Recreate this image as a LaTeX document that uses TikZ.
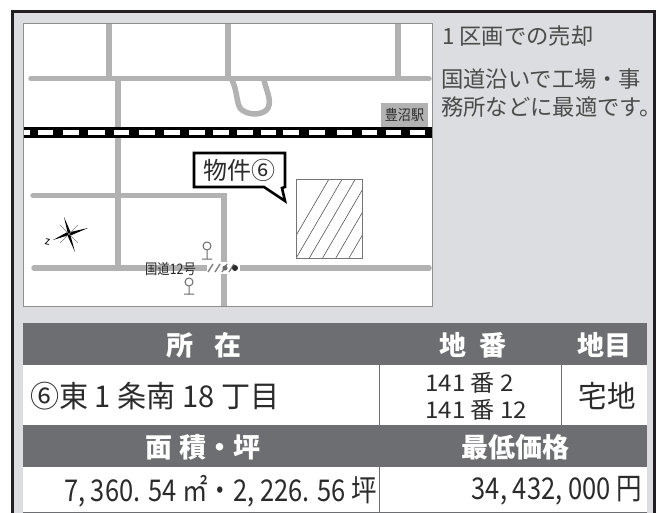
\documentclass[tikz,border=0pt]{standalone}
\usepackage{fontspec}
\setmainfont{Noto Sans CJK JP}
\usetikzlibrary{calc}
\definecolor{panel}{HTML}{DCDDE0}
\definecolor{frameK}{HTML}{231F20}
\definecolor{road}{HTML}{B2B2B2}
\definecolor{headg}{HTML}{6D6E71}
\definecolor{inkk}{HTML}{2B2B2B}
\newcommand{\sq}[2]{\scalebox{#1}[1]{#2}}
\tikzset{
 x=1pt,y=-1pt,
 roadline/.style={draw=road,line width=5.5pt,line cap=round},
 roadedge/.style={draw=road,line width=5.5pt,line cap=butt},
 sidetext/.style={anchor=west,inner sep=0,text=inkk!85,font=\fontsize{22.3}{22.3}\selectfont},
 headtext/.style={inner sep=0,text=white,font=\bfseries\fontsize{27}{27}\selectfont},
 celltext/.style={inner sep=0,text=inkk,font=\fontsize{30}{30}\selectfont},
 smallcell/.style={inner sep=0,text=inkk,font=\fontsize{23}{23}\selectfont},
 maplabel/.style={inner sep=0,text=inkk,font=\fontsize{14.5}{14.5}\selectfont},
 cellrule/.style={draw=headg,line width=0.8pt},
}
\begin{document}
\begin{tikzpicture}
\useasboundingbox (0,0) rectangle (663,513);
\fill[white] (0,0) rectangle (663,513);
% panel
\fill[panel] (12,11.5) rectangle (654,513);
\draw[frameK,line width=3pt] (12,513) -- (12,11.5) -- (654,11.5) -- (654,513);
% map
\fill[white] (23.5,23) rectangle (432,306);
% roads
\draw[roadedge] (109,23) -- (109,78);
\draw[roadedge] (228,23) -- (228,78);
\draw[roadedge] (398,23) -- (398,78);
\draw[roadedge] (118,78) -- (118,268);
\draw[roadline] (31,78.5) -- (429,78.5);
\draw[roadedge] (232,80) .. controls (238,92) and (236,106) .. (242,110) .. controls (250,116) and (264,115) .. (268,108) .. controls (272,100) and (266,90) .. (264,80);
\draw[roadline] (33,195.5) -- (224,195.5);
\draw[roadedge] (224,193) -- (224,305.5);
\draw[roadline] (34,268) -- (429,268);
\draw[road!80!black,line width=0.6pt] (23.5,23) rectangle (432,306);
% station
\fill[road] (381,103) rectangle (428,127);
\node[maplabel] (station) at (404.5,115) {\sq{0.9}{豊沼駅}};
% railway
\fill[black] (23.5,127) rectangle (432,138);
\foreach \a/\b in {23.5/30,38/53,63/79,88/105,114/129,139/155,164/180,189/205,213/229,237/253,261/276,283/299,309/325,337/352,362/377,386/401,410/425}
  \fill[white] (\a,130.5) rectangle (\b,135);
% hatched lot
\begin{scope}
\clip (296,179) rectangle (362,258);
\foreach \i in {0,...,10}
  \draw[inkk!80,line width=0.6pt] ({283+\i*13.2},258) -- ({283+\i*13.2+46},179);
\end{scope}
\draw[inkk!65,line width=0.7pt] (296,179) rectangle (362,258);
% callout
\draw[black,line width=2.6pt,fill=white,line join=miter] (194,153) -- (285,153) -- (285,187) -- (282,188) -- (285,201) -- (264,187) -- (194,187) -- cycle;
\node[inner sep=0,text=inkk,font=\fontsize{24}{24}\selectfont] (callout) at (239.5,170) {物件⑥};
% compass
\fill[black] (64,217) -- (70.5,232) -- (88,228) -- (70.5,235.5) -- (75,252) -- (67.5,235.5) -- (53,240) -- (67.5,232) -- cycle;
\draw[inkk!60,line width=0.4pt] (60,225) -- (78,243) (60,243) -- (78,225);
\node[inner sep=0,rotate=-10,font=\fontsize{11}{11}\selectfont] (north) at (47.5,242) {z};
% route 12 label and pins
\node[maplabel] (route) at (170.5,269) {\sq{0.85}{国道12号}};
\draw[inkk!70,line width=1pt] (207,246) circle (4) (207,250) -- (207,259) (202,259) -- (212,259);
\draw[inkk!70,line width=1pt] (189,282) circle (4) (189,286) -- (189,294) (184,294) -- (194,294);
\fill[white] (207,262) rectangle (240,274);
\foreach \x in {208,215,222,229}
  \draw[inkk!60,line width=1.4pt] (\x,272) -- (\x+5,264);
\fill[inkk!70] (225,268) circle (2.6);
\fill[inkk] (235,268) circle (3);
% side text
\node[sidetext] (s1) at (442,36) {1 区画での売却};
\node[sidetext] (s2) at (441,79) {国道沿いで工場・事};
\node[sidetext] (s3) at (441,107) {務所などに最適です。};
% table
\fill[white] (23,365) rectangle (647,425);
\fill[white] (23,467) rectangle (647,512);
\fill[headg] (23,323) rectangle (647,365);
\fill[headg] (23,425) rectangle (647,467);
\draw[cellrule] (379,323) -- (379,512);
\draw[cellrule] (561,323) -- (561,425);
\draw[cellrule] (23,512) -- (647,512);
\node[headtext] (h1) at (204,345) {所\hspace{0.75em}在};
\node[headtext] (h2) at (473,345) {地\hspace{0.5em}番};
\node[headtext] (h3) at (604.5,345) {地目};
\node[celltext,anchor=west] (c1) at (30,396) {\sq{0.97}{⑥東 1 条南 18 丁目}};
\node[smallcell,anchor=west] (c2a) at (425,383) {\sq{1.05}{141 番 2}};
\node[smallcell,anchor=west] (c2b) at (425,410) {\sq{1.05}{141 番 12}};
\node[celltext] (c3) at (607,396) {\sq{0.95}{宅地}};
\node[headtext] (h4) at (203,447) {面 積・坪};
\node[headtext] (h5) at (515,447) {最低価格};
\node[celltext,anchor=east] (c4) at (377,491) {\sq{0.85}{7, 360. 54 ㎡・2, 226. 56 坪}};
\node[celltext,anchor=east] (c5) at (642,491) {\sq{0.85}{34, 432, 000 円}};
\end{tikzpicture}
\end{document}
